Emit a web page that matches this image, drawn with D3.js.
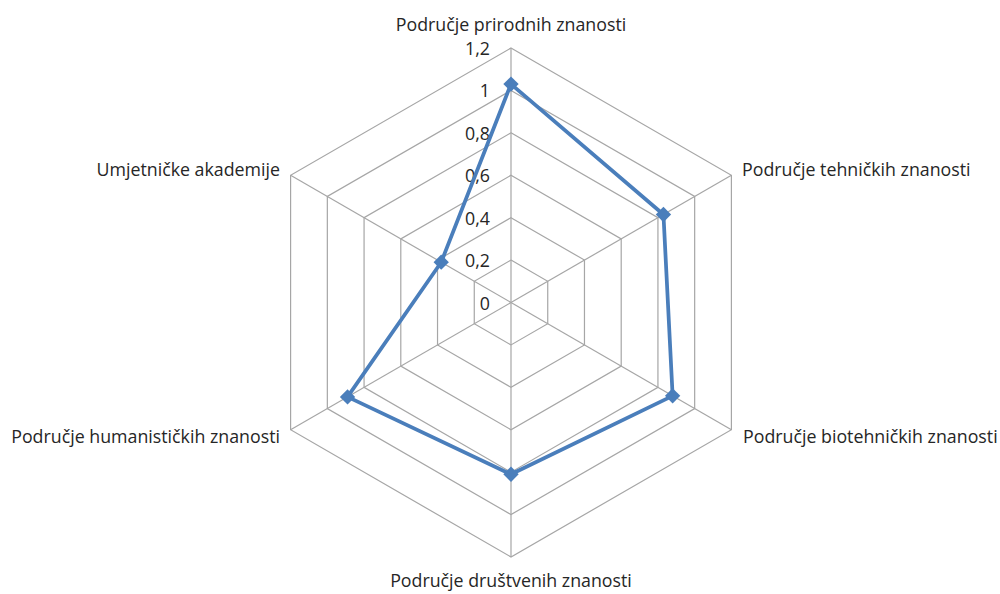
<!DOCTYPE html>
<html><head><meta charset="utf-8">
<script src="https://cdn.jsdelivr.net/npm/d3@7"></script>
<style>body{margin:0;background:#fff}svg{display:block}text{font-family:"Open Sans",Lato,sans-serif;fill:#262626}</style>
</head><body>
<svg id="c" width="1000" height="594"></svg>
<script>
const categories = ["Područje prirodnih znanosti","Područje tehničkih znanosti","Područje biotehničkih znanosti","Područje društvenih znanosti","Područje humanističkih znanosti","Umjetničke akademije"];
const values = [1.03, 0.83, 0.88, 0.81, 0.89, 0.38];
const ticks = [0, 0.2, 0.4, 0.6, 0.8, 1, 1.2];
const tickLabels = ["0","0,2","0,4","0,6","0,8","1","1,2"];

const svg = d3.select("#c");
const cx = 511, cy = 302.5, R = 254.5;
const r = d3.scaleLinear().domain([0, 1.2]).range([0, R]);
const n = categories.length;
const ang = i => -Math.PI/2 + i * 2*Math.PI/n;
const pt = (i, v) => [cx + r(v)*Math.cos(ang(i)), cy + r(v)*Math.sin(ang(i))];
const FS = 17.8;

const g = svg.append("g");
ticks.slice(1).forEach(t => {
  g.append("polygon")
    .attr("points", d3.range(n).map(i => pt(i, t).join(",")).join(" "))
    .attr("fill","none").attr("stroke","#a6a6a6").attr("stroke-width",1.2);
});
d3.range(n).forEach(i => {
  const [x,y] = pt(i, 1.2);
  g.append("line").attr("x1",cx).attr("y1",cy).attr("x2",x).attr("y2",y)
    .attr("stroke","#a6a6a6").attr("stroke-width",1.2);
});
ticks.forEach((t,k) => {
  g.append("text").attr("x", 490).attr("y", cy - r(t) + 7)
    .attr("text-anchor","end").attr("font-size",FS).text(tickLabels[k]);
});
const labelPos = [
  {x:511, y:31, a:"middle"},
  {x:742, y:176, a:"start"},
  {x:743, y:443, a:"start"},
  {x:511, y:587, a:"middle"},
  {x:280, y:443, a:"end"},
  {x:280, y:176, a:"end"}
];
categories.forEach((c,i) => {
  g.append("text").attr("x",labelPos[i].x).attr("y",labelPos[i].y)
   .attr("text-anchor",labelPos[i].a).attr("font-size",FS).text(c);
});
const line = d3.line().curve(d3.curveLinearClosed);
g.append("path").attr("d", line(values.map((v,i)=>pt(i,v))))
  .attr("fill","none").attr("stroke","#4a7ebb").attr("stroke-width",3.75).attr("stroke-linejoin","round");
const diamond = d3.symbol().type(d3.symbolDiamond2).size(150);
values.forEach((v,i) => {
  const [x,y] = pt(i,v);
  g.append("path").attr("d", diamond()).attr("transform",`translate(${x},${y})`)
    .attr("fill","#4a7ebb");
});
</script>
</body></html>
